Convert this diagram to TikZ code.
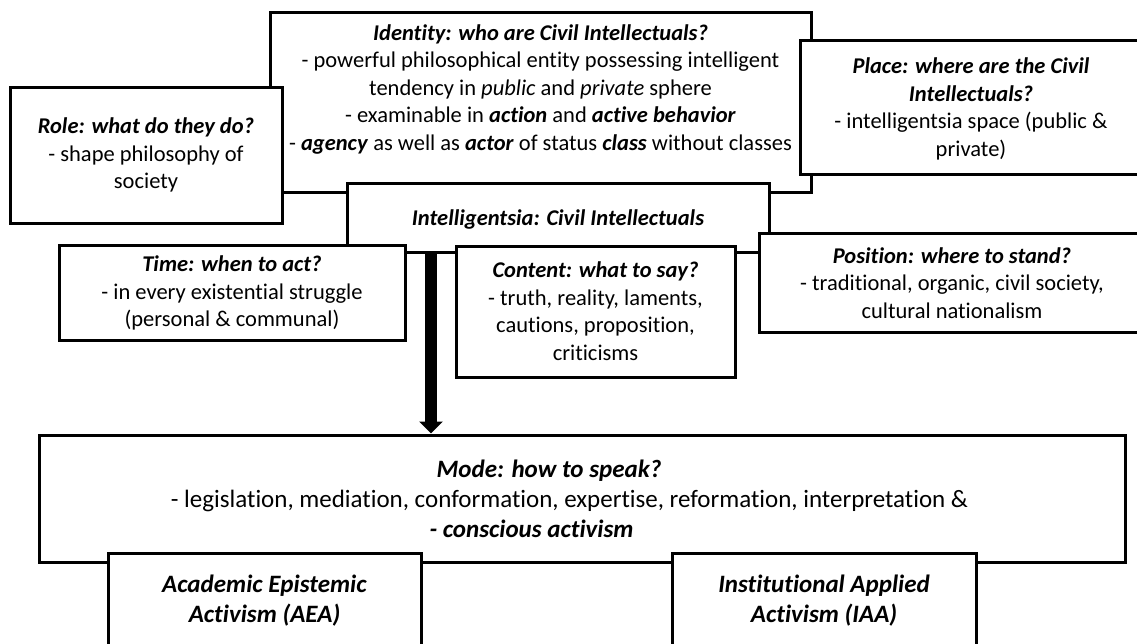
\documentclass[tikz,border=0pt]{standalone}
\usepackage{fontspec}
\setmainfont{Carlito}[RawFeature={-liga}]
\usetikzlibrary{arrows.meta}
\newcommand\BI[1]{\textbf{\textit{#1}}}
\tikzset{
  box/.style={draw=black, line width=3pt, fill=white, inner sep=0pt},
  txt/.style={align=center, font=\fontsize{22.5}{27.5}\selectfont, inner sep=0pt},
  bigtxt/.style={align=center, font=\fontsize{25}{30}\selectfont, inner sep=0pt},
  bigarrow/.style={line width=12pt, -{Triangle[length=12pt,width=23pt]}}
}
\begin{document}
\begin{tikzpicture}[x=1pt,y=-1pt]
\useasboundingbox (0,0) rectangle (1137,643);
\clip (0,0) rectangle (1137,643);
\fill[white] (0,0) rectangle (1137,643);
% Identity
\node[box, minimum width=541pt, minimum height=180pt] (idb) at (540.5,102) {};
\node[txt] (idt) at (540.5,89) {\BI{Identity: who are Civil Intellectuals?}\\
- powerful philosophical entity possessing intelligent\\
tendency in \textit{public} and \textit{private} sphere\\
- examinable in \BI{action} and \BI{active behavior}\\
- \BI{agency} as well as \BI{actor} of status \BI{class} without classes};
% Role
\node[box, minimum width=272pt, minimum height=136pt] (roleb) at (146,155) {};
\node[txt] (rolet) at (146,155) {\BI{Role: what do they do?}\\- shape philosophy of\\society};
% Place
\node[box, minimum width=342pt, minimum height=134pt] (placeb) at (971,107) {};
\node[txt] (placet) at (971,109) {\BI{Place: where are the Civil}\\\BI{Intellectuals?}\\- intelligentsia space (public \&\\private)};
% Intelligentsia
\node[box, minimum width=422pt, minimum height=69pt] (intb) at (558,217.5) {};
\node[txt] (intt) at (558,219) {\BI{Intelligentsia: Civil Intellectuals}};
% Time
\node[box, minimum width=346pt, minimum height=95pt] (timeb) at (232,292.5) {};
\node[txt] (timet) at (232,293) {\BI{Time: when to act?}\\- in every existential struggle\\(personal \& communal)};
% Content
\node[box, minimum width=279pt, minimum height=131pt] (contb) at (595.5,311.5) {};
\node[txt] (contt) at (595.5,311) {\BI{Content: what to say?}\\- truth, reality, laments,\\cautions, proposition,\\criticisms};
% Position
\node[box, minimum width=386pt, minimum height=99pt] (posb) at (952,282.5) {};
\node[txt] (post) at (952,283) {\BI{Position: where to stand?}\\- traditional, organic, civil society,\\cultural nationalism};
% Mode
\node[box, minimum width=1086pt, minimum height=127pt] (modeb) at (582,498.5) {};
\node[bigtxt] (modet) at (549,499) {\BI{Mode: how to speak?}\\\hspace*{41pt}- legislation, mediation, conformation, expertise, reformation, interpretation \&\\\BI{- conscious activism}\hspace*{35pt}};
% arrow
\draw[bigarrow] (431,0 |- intb.south) -- (431,0 |- modeb.north);
% AEA / IAA
\node[box, minimum width=313pt, minimum height=107pt] (aeab) at (264.5,606.5) {};
\node[bigtxt] (aeat) at (264.5,601) {\BI{Academic Epistemic}\\\BI{Activism (AEA)}};
\node[box, minimum width=304pt, minimum height=107pt] (iaab) at (824,606.5) {};
\node[bigtxt] (iaat) at (824,601) {\BI{Institutional Applied}\\\BI{Activism (IAA)}};
\end{tikzpicture}
\end{document}
